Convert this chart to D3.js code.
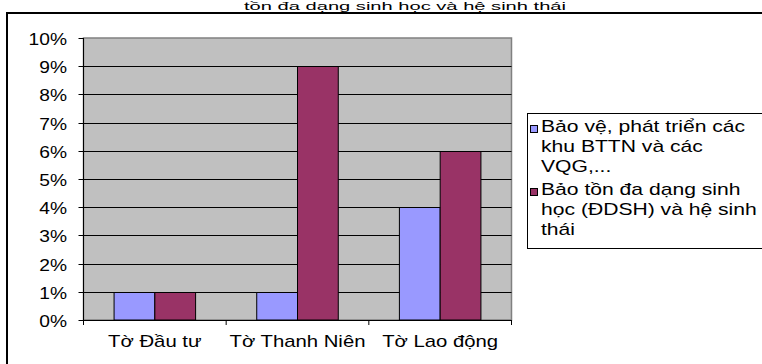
<!DOCTYPE html>
<html><head><meta charset="utf-8">
<script src="https://cdn.jsdelivr.net/npm/d3@7"></script>
<style>body{margin:0;background:#fff}svg{display:block}text{font-family:"Liberation Sans",Arial,sans-serif;fill:#000}</style>
</head><body><div id="chart"></div>
<script>
const categories = ["Tờ Đầu tư", "Tờ Thanh Niên", "Tờ Lao động"];
const seriesNames = ["Bảo vệ, phát triển các khu BTTN và các VQG,...", "Bảo tồn đa dạng sinh học (ĐDSH) và hệ sinh thái"];
const seriesA = [0.01, 0.01, 0.04];
const seriesB = [0.01, 0.09, 0.06];
const legendLines = [["Bảo vệ, phát triển các", "khu BTTN và các", "VQG,..."], ["Bảo tồn đa dạng sinh", "học (ĐDSH) và hệ sinh", "thái"]];
const yTicks = [0, 0.01, 0.02, 0.03, 0.04, 0.05, 0.06, 0.07, 0.08, 0.09, 0.10];
const titleText = "tồn đa dạng sinh học và hệ sinh thái";
const colors = ["#9999FF", "#993366"];

const W = 762, H = 364;
const svg = d3.select("#chart").append("svg").attr("width", W).attr("height", H);
const SX = 1.27, FS = 16;

function txt(x, y, s, anchor, sx, fs) {
  return svg.append("text").attr("transform", `translate(${x},${y}) scale(${sx || SX},1)`)
    .attr("text-anchor", anchor || "start").attr("font-size", fs || FS).text(s);
}

// outer chart frame
svg.append("rect").attr("x", 7).attr("y", 13).attr("width", W + 20).attr("height", H + 20)
  .attr("fill", "#fff").attr("stroke", "#000").attr("stroke-width", 2);

// title (kept inside the window, above the frame)
txt(405, 9.5, titleText, "middle", 1.75, 11.5);

const L = 83.5, R = 511.5, T = 38, B = 320;
const x = d3.scaleBand().domain(categories).range([L, R]);
const y = d3.scaleLinear().domain([0, 0.10]).range([B, T]);
const bw = x.bandwidth() / 3.5;
const x1 = d3.scaleBand().domain([0, 1]).range([0, 2 * bw]);

// plot area
svg.append("rect").attr("x", L).attr("y", T).attr("width", R - L).attr("height", B - T)
  .attr("fill", "#C0C0C0").attr("stroke", "#808080").attr("stroke-width", 1.5);

// gridlines
svg.append("g").selectAll("line").data(yTicks.slice(1, -1)).join("line")
  .attr("x1", L).attr("x2", R).attr("y1", d => Math.round(y(d)) + 0.5).attr("y2", d => Math.round(y(d)) + 0.5)
  .attr("stroke", "#000").attr("stroke-width", 1);

// bars
const data = [seriesA, seriesB];
const g = svg.append("g");
categories.forEach((c, i) => {
  data.forEach((s, k) => {
    const x0 = x(c) + (x.bandwidth() - 2 * bw) / 2 + x1(k);
    g.append("rect").attr("x", x0).attr("width", bw)
      .attr("y", Math.round(y(s[i])) + 0.5).attr("height", B - Math.round(y(s[i])) - 0.5)
      .attr("fill", colors[k]).attr("stroke", "#000").attr("stroke-width", 1);
  });
});

// y axis
svg.append("line").attr("x1", L).attr("x2", L).attr("y1", T).attr("y2", B).attr("stroke", "#000");
yTicks.forEach(t => {
  const yy = Math.round(y(t)) + 0.5;
  svg.append("line").attr("x1", L - 5).attr("x2", L).attr("y1", yy).attr("y2", yy).attr("stroke", "#000");
  txt(67, yy + 6, d3.format(".0%")(t), "end", 1.2);
});

// x axis
svg.append("line").attr("x1", L).attr("x2", R).attr("y1", B + 0.5).attr("y2", B + 0.5).attr("stroke", "#000");
const bounds = categories.map(c => x(c)).concat([R]);
bounds.forEach(b => {
  svg.append("line").attr("x1", b).attr("x2", b).attr("y1", B).attr("y2", B + 5).attr("stroke", "#000");
});
categories.forEach(c => txt(x(c) + x.bandwidth() / 2, 347, c, "middle"));

// legend
svg.append("rect").attr("x", 527.5).attr("y", 113.5).attr("width", 260).attr("height", 135)
  .attr("fill", "#fff").attr("stroke", "#000").attr("stroke-width", 1);
const lgBase = [132, 195];
seriesNames.forEach((n, k) => {
  svg.append("rect").attr("x", 530.5).attr("y", lgBase[k] - 6.5).attr("width", 7).attr("height", 7)
    .attr("fill", colors[k]).attr("stroke", "#000");
  legendLines[k].forEach((ln, j) => txt(541, lgBase[k] + j * 20, ln, "start", 1.32));
});
</script>
</body></html>
